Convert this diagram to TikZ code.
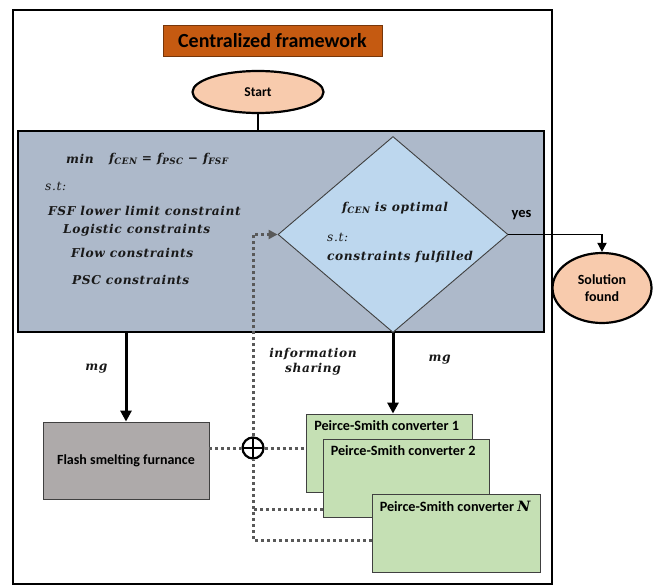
\documentclass[tikz,border=0pt]{standalone}
\usepackage{fontspec}
\setmainfont{Carlito}
\newfontfamily\mate{DejaVu Serif}[LetterSpace=5]
\newcommand{\subind}[1]{\raisebox{-0.35ex}{\fontsize{8.8}{10}\selectfont #1}}
\usetikzlibrary{arrows.meta,calc,positioning,shapes.geometric}
\definecolor{cnaranja}{HTML}{C55A11}
\definecolor{cdurazno}{HTML}{F8CBAD}
\definecolor{cmodelo}{HTML}{ADB9CA}
\definecolor{crombo}{HTML}{BDD7EE}
\definecolor{chorno}{HTML}{AEAAAA}
\definecolor{cconv}{HTML}{C5E0B4}
\definecolor{cpunto}{HTML}{595959}
\definecolor{cborde}{HTML}{404040}
\tikzset{
  marco/.style={draw=black,line width=2.2pt,minimum width=539pt,minimum height=574pt,inner sep=0pt},
  titulo/.style={draw=cnaranja!60!black,fill=cnaranja,line width=0.8pt,minimum width=219pt,minimum height=31pt,inner sep=0pt,font=\fontsize{20}{24}\selectfont\bfseries},
  elipse/.style={ellipse,draw=black,fill=cdurazno,line width=2.2pt,inner sep=0pt,font=\fontsize{14}{17}\selectfont\bfseries,align=center},
  modelo/.style={draw=black,fill=cmodelo,line width=2.8pt,minimum width=526pt,minimum height=201pt,inner sep=0pt},
  rombo/.style={diamond,draw=cborde,fill=crombo,line width=0.9pt,minimum width=230pt,minimum height=196pt,inner sep=0pt},
  horno/.style={draw=cborde,fill=chorno,line width=0.9pt,minimum width=166pt,minimum height=77pt,inner sep=0pt,font=\fontsize{14}{17}\selectfont\bfseries},
  conv/.style={draw=cborde,fill=cconv,line width=0.9pt,minimum width=166pt,minimum height=78pt,inner sep=0pt},
  textoconv/.style={inner sep=0pt,font=\fontsize{14.2}{17}\selectfont\bfseries},
  suma/.style={circle,draw=black,fill=white,line width=2.2pt,minimum size=21pt,inner sep=0pt,
    path picture={\draw[line width=2.2pt] (path picture bounding box.north) -- (path picture bounding box.south)
      (path picture bounding box.west) -- (path picture bounding box.east);}},
  ecuacion/.style={inner sep=0pt,anchor=west,text=black!90,font=\mate\fontsize{12.2}{15}\selectfont\bfseries\itshape},
  ecuacionfina/.style={ecuacion,font=\mate\fontsize{12.2}{15}\selectfont\itshape},
  linea/.style={draw=black,line width=2.2pt},
  flecha/.style={draw=black,line width=1.8pt,-{Triangle[length=9pt,width=9pt]}},
  flechagruesa/.style={draw=black,line width=3pt,-{Triangle[length=11pt,width=11pt]}},
  punteado/.style={draw=cpunto,line width=3pt,dash pattern=on 3pt off 3pt},
}
\begin{document}
\begin{tikzpicture}[x=1pt,y=-1pt]
\useasboundingbox (0,0) rectangle (660,586);
\node[marco] (marco) at (282.5,297) {};
\node[titulo] (titulo) at (272.5,40.5) {Centralized framework};
\node[elipse,minimum width=131pt,minimum height=42pt,font=\fontsize{13.5}{16}\selectfont\bfseries] (inicio) at (258,92) {Start};
\node[modelo] (modelo) at (281,231.5) {};
\node[rombo] (optimo) at (393,234.5) {};
\node[elipse,minimum width=99pt,minimum height=70pt] (solucion) at (602,288) {Solution\\found};
\node[horno] (fsf) at (126,460.5) {Flash smelting furnance};
% convertidores apilados
\node[conv] (psc1) at (389.5,453) {};
\node[textoconv,below right=7pt and 8pt of psc1.north west] {Peirce-Smith converter 1};
\node[conv] (psc2) at (406,478) {};
\node[textoconv,below right=7pt and 8pt of psc2.north west] {Peirce-Smith converter 2};
\node[conv,minimum width=168pt] (pscN) at (456,533) {};
\node[textoconv,below right=7pt and 8pt of pscN.north west] {Peirce-Smith converter {\mate\itshape N}};
% texto del modelo
\node[ecuacion] (fmin) at (66,159) {min};
\node[ecuacion] (fobj) at (109,159) {f\subind{CEN} = f\subind{PSC} − f\subind{FSF}};
\node[ecuacionfina] (st1) at (45,186) {s.t:};
\node[ecuacion] (r1) at (48,211) {FSF lower limit constraint};
\node[ecuacion] (r2) at (63,230) {Logistic constraints};
\node[ecuacion] (r3) at (71,253) {Flow constraints};
\node[ecuacion] (r4) at (72,280) {PSC constraints};
\node[ecuacion] (c1) at (342,208) {f\subind{CEN} is optimal};
\node[ecuacionfina] (st2) at (327,237) {s.t:};
\node[ecuacion] (c2) at (327,257) {constraints fulfilled};
\node[ecuacion,anchor=center,align=center] (info) at (313,361.5) {information\\sharing};
% conexiones
\draw[linea] (inicio.south) -- (inicio.south |- modelo.north);
\draw[flecha] (optimo.east) -| (solucion.north)
  node[pos=0.07,above=10pt,font=\fontsize{14.5}{17}\selectfont\bfseries] {yes};
\draw[flechagruesa] (modelo.south -| fsf.north) -- (fsf.north)
  node[pos=0.4,left=17pt,ecuacion,anchor=east] {mg};
\draw[flechagruesa] (optimo.south) -- (optimo.south |- psc1.north)
  node[pos=0.33,right=34pt,ecuacion] {mg};
% informacion compartida
\node[suma] (suma) at (253,448) {};
\coordinate (rama2) at (253,509);
\coordinate (ramaN) at (253,540);
\draw[punteado] (fsf.east |- suma) -- (suma.west);
\draw[punteado] (suma.east) -- (suma -| psc1.west);
\draw[punteado] (rama2 -| psc2.west) -- (rama2);
\draw[punteado] (ramaN -| pscN.west) -- (ramaN) -- (suma.south);
\draw[punteado,-{Triangle[length=9pt,width=9pt]}] (suma.north) -- (suma |- optimo.west) -- (optimo.west);
\end{tikzpicture}
\end{document}
